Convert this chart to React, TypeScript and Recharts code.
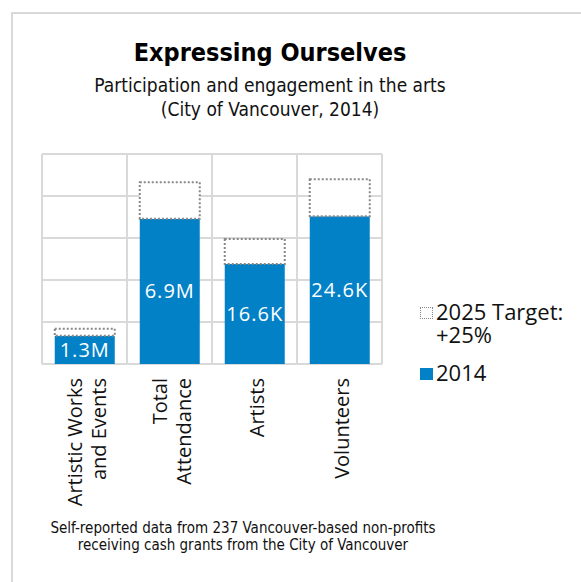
import { BarChart, Bar, XAxis, YAxis, CartesianGrid, Legend, LabelList } from 'recharts';

const categories = ['Artistic Works\nand Events', 'Total\nAttendance', 'Artists', 'Volunteers'];
const values2014 = [0.67, 3.46, 2.38, 3.52];
const labels2014 = ['1.3M', '6.9M', '16.6K', '24.6K'];
const targetGrowth = 0.25;
const yTicks = [0, 1, 2, 3, 4, 5];

const BLUE = '#0381c7';
const GRID = '#d9d9d9';
const TITLE_FONT = '"DejaVu Sans Condensed", "DejaVu Sans", sans-serif';
const BODY_FONT = '"Open Sans", sans-serif';

const chartData = categories.map((name, i) => ({
  name,
  base: values2014[i],
  target: +(values2014[i] * targetGrowth).toFixed(3),
  label: labels2014[i],
}));

function CategoryTick({ x, y, payload }: any) {
  const lines = String(payload.value).split('\n');
  return (
    <g transform={`translate(${x},${y + 6}) rotate(-90)`}>
      <text textAnchor="end" fontFamily={BODY_FONT} fontSize={20} fill="#111">
        {lines.map((line, i) => (
          <tspan key={i} x={0} y={9 + (i - (lines.length - 1) / 2) * 24}>
            {line}
          </tspan>
        ))}
      </text>
    </g>
  );
}

function LegendContent({ payload }: any) {
  const items = [...(payload || [])].reverse();
  return (
    <div style={{ fontFamily: BODY_FONT, fontSize: 22, lineHeight: '23px', color: '#111' }}>
      {items.map((entry: any, i: number) => (
        <div key={i} style={{ display: 'flex', alignItems: 'flex-start', marginBottom: 15 }}>
          <span
            style={{
              width: entry.dataKey === 'target' ? 11 : 13,
              height: entry.dataKey === 'target' ? 10 : 12,
              marginTop: 7,
              marginRight: 3,
              flexShrink: 0,
              background: entry.dataKey === 'target' ? '#fff' : BLUE,
              border: entry.dataKey === 'target' ? '1px dotted #888' : 'none',
            }}
          />
          <span style={{ width: 140 }}>{entry.value}</span>
        </div>
      ))}
    </div>
  );
}

export default function App() {
  return (
    <div style={{ position: 'absolute', left: 0, top: 0, width: 581, height: 582, overflow: 'hidden', background: '#fff' }}>
      <div
        style={{
          position: 'absolute',
          left: 11,
          top: 12,
          width: 620,
          height: 620,
          border: `2px solid ${GRID}`,
        }}
      />
      <div
        style={{
          position: 'absolute',
          left: 0,
          width: 540,
          top: 38,
          textAlign: 'center',
          fontFamily: TITLE_FONT,
          fontWeight: 'bold',
          fontSize: 25,
          lineHeight: '29px',
          color: '#000',
        }}
      >
        Expressing Ourselves
      </div>
      <div
        style={{
          position: 'absolute',
          left: 0,
          width: 540,
          top: 73,
          textAlign: 'center',
          fontFamily: TITLE_FONT,
          fontSize: 19,
          lineHeight: '24px',
          color: '#111',
        }}
      >
        Participation and engagement in the arts
        <br />
        (City of Vancouver, 2014)
      </div>

      <div style={{ position: 'absolute', left: 0, top: 0 }}>
        <BarChart
          width={581}
          height={582}
          data={chartData}
          margin={{ top: 154, right: 34, bottom: 188, left: 42 }}
          barCategoryGap="15%"
        >
          <CartesianGrid
            stroke={GRID}
            strokeWidth={2}
            horizontalCoordinatesGenerator={({ offset }: any) =>
              yTicks.map((_, i) => offset.top + (i * offset.height) / (yTicks.length - 1))
            }
            verticalCoordinatesGenerator={({ offset }: any) =>
              Array.from({ length: categories.length + 1 }, (_, i) => offset.left + (i * offset.width) / categories.length)
            }
          />
          <XAxis
            dataKey="name"
            height={30}
            axisLine={false}
            tickLine={false}
            interval={0}
            tick={<CategoryTick />}
          />
          <YAxis hide domain={[0, 5]} ticks={yTicks} />
          <Legend
            layout="vertical"
            align="right"
            verticalAlign="middle"
            wrapperStyle={{ left: 420, top: 300, width: 165 }}
            content={<LegendContent />}
          />
          <Bar dataKey="base" name="2014" stackId="a" fill={BLUE} isAnimationActive={false}>
            <LabelList
              dataKey="label"
              position="center"
              fill="#fff"
              fontFamily={BODY_FONT}
              fontSize={20}
              letterSpacing={1}
            />
          </Bar>
          <Bar
            dataKey="target"
            name="2025 Target: +25%"
            stackId="a"
            fill="#fff"
            stroke="#888"
            strokeWidth={2}
            strokeDasharray="2 2"
            isAnimationActive={false}
          />
        </BarChart>
      </div>

      <div
        style={{
          position: 'absolute',
          left: 0,
          width: 486,
          top: 520,
          textAlign: 'center',
          fontFamily: TITLE_FONT,
          fontSize: 15,
          lineHeight: '17px',
          color: '#111',
        }}
      >
        Self-reported data from 237 Vancouver-based non-profits
        <br />
        receiving cash grants from the City of Vancouver
      </div>
    </div>
  );
}
